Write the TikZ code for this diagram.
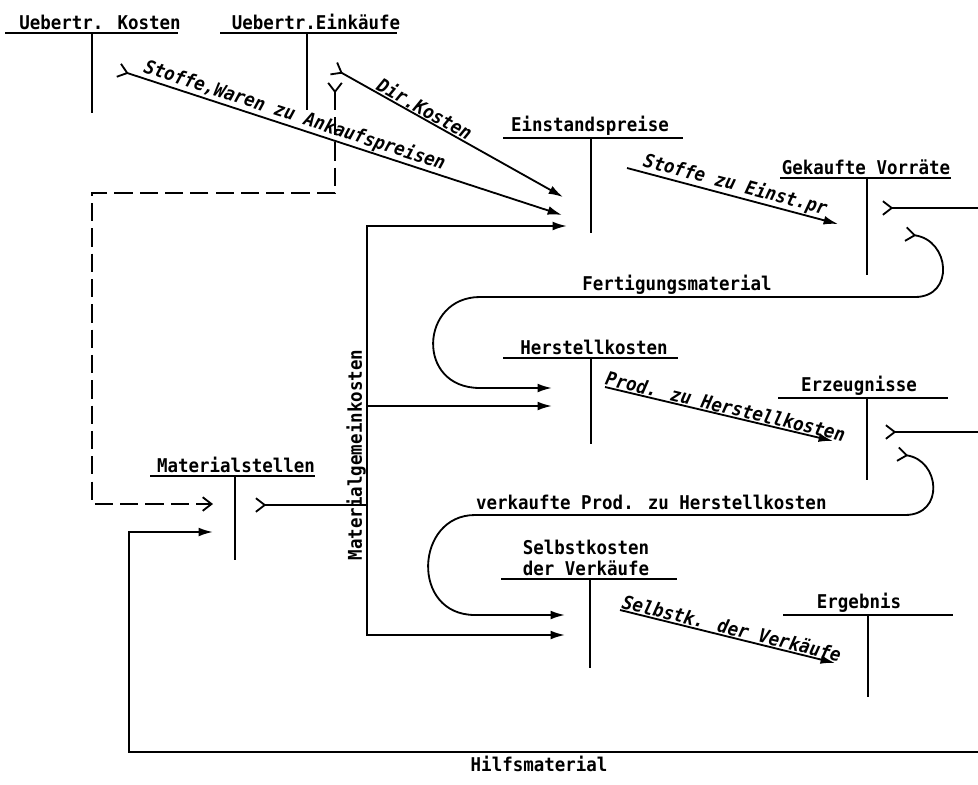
\documentclass[tikz,border=0pt]{standalone}
\usepackage{fontspec}
\setmainfont[FakeStretch=0.92]{DejaVu Sans Mono}
\usetikzlibrary{arrows.meta, positioning}

\begin{document}
\begin{tikzpicture}
		[x=0.025cm, y=-0.025cm,
		line width=1.3pt,
		every node/.style={font=\fontsize{13.5}{15}\selectfont\bfseries},
		t/.style = {anchor=south, inner sep=1.5pt, align=center},
		lbl/.style = {sloped, above, inner sep=0.5pt, font=\fontsize{13.5}{15}\selectfont\bfseries\itshape},
		hl/.style = {above, inner sep=1pt},
		fl/.style = {-{Latex[length=3.6mm,width=2.2mm]}},
		tl/.style = {{Straight Barb[reversed,length=2.2mm,width=3.4mm]}-{Latex[length=3.6mm,width=2.2mm]}},
		tn/.style = {{Straight Barb[reversed,length=2.2mm,width=3.4mm]}-},
		ol/.style = {{Straight Barb[reversed,length=2.2mm,width=3.4mm]}-{Straight Barb[length=2.2mm,width=3.4mm]}}]
		
		\useasboundingbox (0,0) rectangle (978,784);
		
		\foreach \nm/\a/\b/\y/\v/\e/\tx/\txt in {
			ktn/5/178/33/92/113/100/{Uebertr. Kosten},
			ekf/220/397/33/307/110/316/{Uebertr.Einkäufe},
			esp/503/683/138/591/233/590/{Einstandspreise},
			vor/780/951/178/867/275/866/{Gekaufte Vorräte},
			hk/503/678/358/591/444/594/{Herstellkosten},
			erz/778/948/398/867/480/859/{Erzeugnisse},
			mat/150/315/476/235/560/236/{Materialstellen},
			sk/501/677/579/590/668/586/{Selbstkosten\\der Verkäufe},
			erg/783/953/615/868/697/859/{Ergebnis}}
		{
			\node[t] (\nm) at (\tx,\y) {\txt};
			\draw (\a,\y) -- (\b,\y) (\v,\y) -- (\v,\e);
		}
		
		\coordinate (swa) at (118,70);
		\coordinate (swe) at (562,215);
		\coordinate (dka) at (333,68);
		\coordinate (dke) at (563,197);
		\coordinate (mge) at (567,226);
		\coordinate (sea) at (627,168);
		\coordinate (see) at (838,224);
		\coordinate (vora) at (882,208);
		\coordinate (vore) at (978,208);
		\coordinate (fma) at (905,234);
		\coordinate (fme) at (552,388);
		\coordinate (mhe) at (552,406);
		\coordinate (pha) at (605,387);
		\coordinate (phe) at (833,441);
		\coordinate (erza) at (885,432);
		\coordinate (erze) at (978,432);
		\coordinate (vpa) at (897,454);
		\coordinate (vpe) at (565,615);
		\coordinate (mse) at (565,635);
		\coordinate (sva) at (620,610);
		\coordinate (sve) at (835,663);
		\coordinate (ekfa) at (335,82);
		\coordinate (ekfe) at (213,504);
		\coordinate (hma) at (978,752);
		\coordinate (hme) at (213,532);
		\coordinate (mata) at (255,505);
		\coordinate (bus) at (367,505);
		
		\draw[tl] (swa) -- node[lbl, pos=0.39] (swl) {Stoffe,Waren zu Ankaufspreisen} (swe);
		\draw[tl] (dka) -- node[lbl, pos=0.38] (dkl) {Dir.Kosten} (dke);
		\draw[fl] (sea) -- node[lbl, pos=0.5] (sel) {Stoffe zu Einst.pr} (see);
		\draw[tn] (vora) -- (vore);
		\draw[tl] (fma) .. controls (950,240) and (955,297) .. (915,297)
			-- node[hl, pos=0.547] (fml) {Fertigungsmaterial} (480,297)
			.. controls (420,297) and (415,388) .. (480,388) -- (fme);
		\draw[fl] (pha) -- node[lbl, pos=0.52] (phl) {Prod. zu Herstellkosten} (phe);
		\draw[tn] (erza) -- (erze);
		\draw[tl] (vpa) .. controls (940,460) and (945,515) .. (905,515)
			-- node[hl, inner sep=3pt, pos=0.59] (vpl) {verkaufte Prod. zu Herstellkosten} (475,515)
			.. controls (415,515) and (410,615) .. (475,615) -- (vpe);
		\draw[fl] (sva) -- node[lbl, pos=0.51] (svl) {Selbstk. der Verkäufe} (sve);
		
		\draw[ol, dash pattern=on 13pt off 5pt] (ekfa) |- (92,193) |- (ekfe);
		\draw[fl] (hma) -- node[below, inner sep=2pt, pos=0.517] (hml) {Hilfsmaterial} (129,752) |- (hme);
		
		\draw[tn] (mata) -- (bus);
		\draw[fl] (bus) |- (mge);
		\draw[fl] (bus) |- (mse);
		\draw[fl] (bus |- mhe) -- (mhe);
		\node[rotate=90] (mgl) at (356,455) {Materialgemeinkosten};
		
	\end{tikzpicture}
\end{document}
